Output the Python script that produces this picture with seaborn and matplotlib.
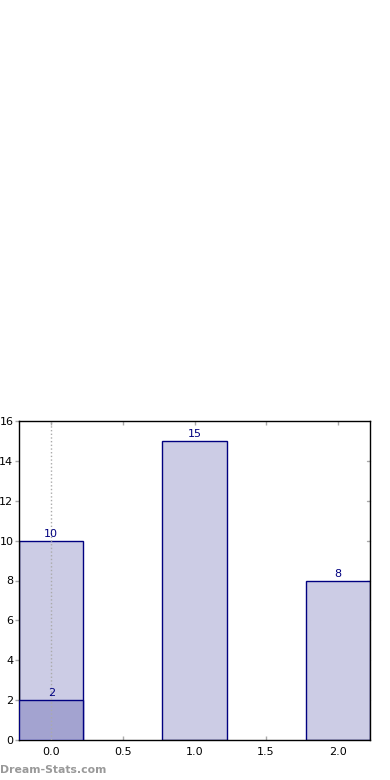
import matplotlib
matplotlib.use("Agg")
import matplotlib.pyplot as plt
import seaborn as sns
import pandas as pd

positions = [0, 1, 2]
values = [10, 15, 8]
sub_positions = [0]
sub_values = [2]
xticks = [0.0, 0.5, 1.0, 1.5, 2.0]
yticks = [0, 2, 4, 6, 8, 10, 12, 14, 16]

sns.set_style("white")
plt.rcParams['font.family'] = ['DejaVu Sans']

fig = plt.figure(figsize=(3.9, 7.8), dpi=100)
ax = fig.add_axes([19/390, 1-740/780, 351/390, 319/780])

df = pd.DataFrame({"x": positions, "y": values})
df2 = pd.DataFrame({"x": sub_positions, "y": sub_values})

sns.barplot(data=df, x="x", y="y", native_scale=True, width=0.45,
            color="#ccccE5", edgecolor="#000080", linewidth=1, saturation=1, ax=ax, zorder=2)
sns.barplot(data=df2, x="x", y="y", native_scale=True, width=0.45,
            color="#a3a3d0", edgecolor="#000080", linewidth=1, saturation=1, ax=ax, zorder=3)
for p in ax.patches:
    p.set_facecolor(p.get_facecolor()[:3] + (1,))

ax.axvline(0, color="#aaaaaa", linestyle=":", linewidth=1, zorder=4)

for x, v in list(zip(positions, values)) + list(zip(sub_positions, sub_values)):
    ax.text(x, v + 0.1, str(v), ha="center", va="bottom", color="#000080", fontsize=8, zorder=5)

ax.set_xlim(-0.225, 2.225)
ax.set_ylim(0, 16)
ax.set_xticks(xticks)
ax.set_xticklabels([f"{t:.1f}" for t in xticks])
ax.set_yticks(yticks)
ax.set_xlabel("")
ax.set_ylabel("")
for s in ax.spines.values():
    s.set_visible(True)
    s.set_color("black")
    s.set_linewidth(1)
ax.tick_params(axis="both", labelsize=8, colors="#aaaaaa", labelcolor="black", length=3, width=1)
ax.tick_params(axis="x", direction="in", top=True, bottom=True, pad=5)
ax.tick_params(axis="y", direction="out", left=True, right=False, pad=1)
for y in yticks[1:-1]:
    ax.plot([2.225 - 0.02, 2.225], [y, y], color="#aaaaaa", lw=1, clip_on=False, zorder=1)

fig.text(0.0, 1 - 770/780, "Dream-Stats.com", fontsize=7.8, fontweight="bold", color="#999999", ha="left", va="center")

fig.savefig("out.png", dpi=100)
